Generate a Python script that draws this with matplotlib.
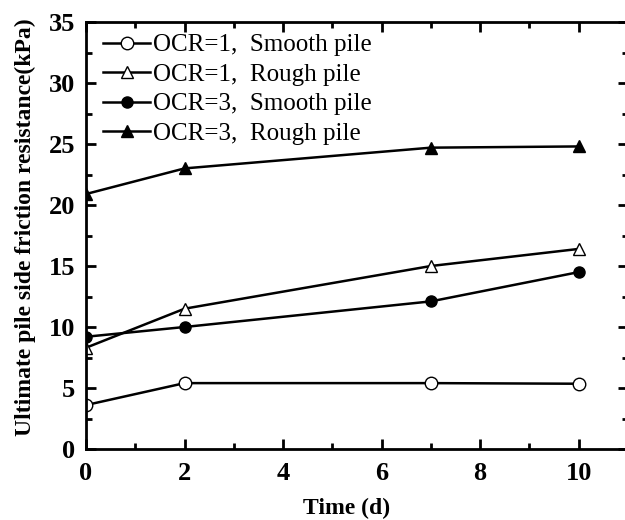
import matplotlib
matplotlib.use('Agg')
import matplotlib.pyplot as plt
from matplotlib.ticker import MultipleLocator

plt.rcParams['font.family'] = ['Liberation Serif', 'DejaVu Serif']

# data
time_d = [0, 2, 7, 10]
ocr1_smooth = [3.6, 5.4, 5.4, 5.35]
ocr1_rough = [8.3, 11.5, 15.0, 16.4]
ocr3_smooth = [9.2, 10.0, 12.1, 14.5]
ocr3_rough = [20.9, 23.0, 24.7, 24.8]
labels = ['OCR=1,  Smooth pile', 'OCR=1,  Rough pile',
          'OCR=3,  Smooth pile', 'OCR=3,  Rough pile']

fig = plt.figure(figsize=(6.25, 5.2), dpi=100)
ax = fig.add_axes([86/625, 71/520, 542/625, 427/520])

lw = 1.8
ax.plot(time_d, ocr1_smooth, '-o', color='black', mfc='white', mec='black',
        ms=9, lw=lw, mew=1.0, label=labels[0])
ax.plot(time_d, ocr1_rough, '-^', color='black', mfc='white', mec='black',
        ms=9, lw=lw, mew=1.0, label=labels[1])
ax.plot(time_d, ocr3_smooth, '-o', color='black', ms=8, lw=lw, label=labels[2])
ax.plot(time_d, ocr3_rough, '-^', color='black', ms=9, lw=lw, label=labels[3])

ax.set_xlim(0, 11)
ax.set_ylim(0, 35)
ax.xaxis.set_major_locator(MultipleLocator(2))
ax.xaxis.set_minor_locator(MultipleLocator(1))
ax.yaxis.set_major_locator(MultipleLocator(5))
ax.yaxis.set_minor_locator(MultipleLocator(2.5))
ax.tick_params(which='both', direction='in', top=True, right=True, width=2)
ax.tick_params(which='major', length=7, labelsize=19)
ax.tick_params(axis='x', which='major', pad=9)
ax.tick_params(axis='y', which='major', pad=8)
ax.tick_params(which='minor', length=4)
for t in ax.get_xticklabels() + ax.get_yticklabels():
    t.set_fontweight('bold')
for s in ax.spines.values():
    s.set_linewidth(2)

ax.set_xlabel('Time (d)', fontsize=17, fontweight='bold')
ax.xaxis.set_label_coords(0.48, -0.115)
ax.set_ylabel('Ultimate pile side friction resistance(kPa)', fontsize=17,
              fontweight='bold')
ax.yaxis.set_label_coords(-0.093, 0.52)

ax.legend(loc='upper left', bbox_to_anchor=(0.031, 0.972), frameon=False,
          fontsize=18, handlelength=1.9, handletextpad=0.12,
          labelspacing=0.28, borderaxespad=0, borderpad=0)

fig.savefig('out.png', dpi=100)
